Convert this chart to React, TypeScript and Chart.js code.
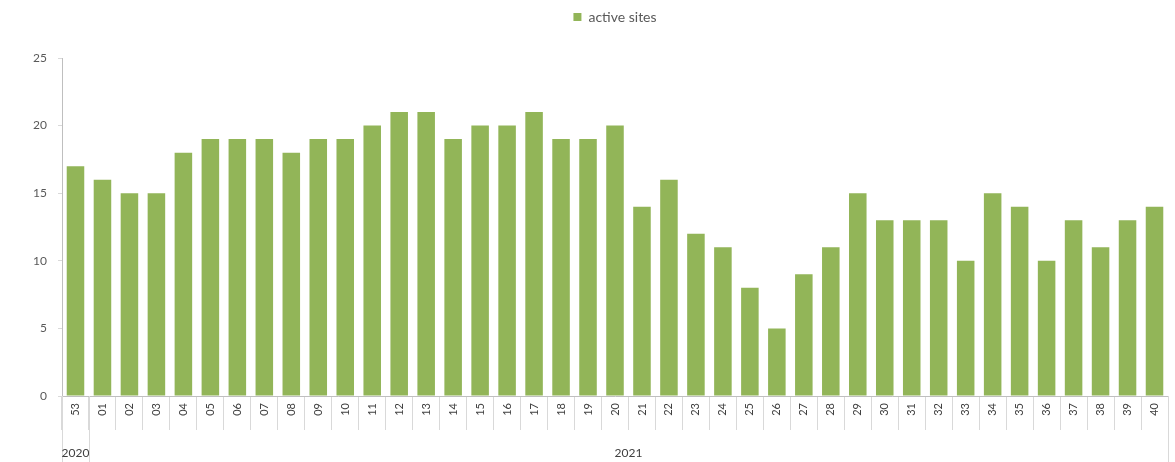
import React, { useEffect, useRef } from 'react';
import { Chart, registerables } from 'chart.js';

Chart.register(...registerables);

const weeks = [
  '53', '01', '02', '03', '04', '05', '06', '07', '08', '09',
  '10', '11', '12', '13', '14', '15', '16', '17', '18', '19',
  '20', '21', '22', '23', '24', '25', '26', '27', '28', '29',
  '30', '31', '32', '33', '34', '35', '36', '37', '38', '39', '40',
];
const activeSites = [
  17, 16, 15, 15, 18, 19, 19, 19, 18, 19,
  19, 20, 21, 21, 19, 20, 20, 21, 19, 19,
  20, 14, 16, 12, 11, 8, 5, 9, 11, 15,
  13, 13, 13, 10, 15, 14, 10, 13, 11, 13, 14,
];
const yearLabels = ['2020', '2021'];
const yearStarts = [0, 1];
const yTicks = [0, 5, 10, 15, 20, 25];

const FONT = 'Lato, "Liberation Sans", sans-serif';
const BAR = '#92b558';
const TEXT = '#595959';
const LINE = '#d9d9d9';

const yearPlugin = {
  id: 'yearGroups',
  afterDraw(chart: any) {
    const xs = chart.scales.x;
    const ctx = chart.ctx;
    const half = (xs.getPixelForValue(1) - xs.getPixelForValue(0)) / 2;
    ctx.save();
    ctx.strokeStyle = LINE;
    ctx.lineWidth = 1;
    ctx.fillStyle = '#404040';
    ctx.font = `12px ${FONT}`;
    ctx.textAlign = 'center';
    ctx.textBaseline = 'middle';
    yearStarts.forEach((start, g) => {
      const end = g + 1 < yearStarts.length ? yearStarts[g + 1] - 1 : weeks.length - 1;
      const left = xs.getPixelForValue(start) - half;
      const right = xs.getPixelForValue(end) + half;
      [left, right].forEach((px) => {
        const x = Math.round(px) + 0.5;
        ctx.beginPath();
        ctx.moveTo(x, xs.top);
        ctx.lineTo(x, chart.height);
        ctx.stroke();
      });
      ctx.fillText(yearLabels[g], (left + right) / 2, xs.top + 57);
    });
    ctx.restore();
  },
};

export default function App() {
  const ref = useRef<HTMLCanvasElement | null>(null);

  useEffect(() => {
    if (!ref.current) return;
    const chart = new Chart(ref.current, {
      type: 'bar',
      data: {
        labels: weeks,
        datasets: [
          {
            label: 'active sites',
            data: activeSites,
            backgroundColor: BAR,
            borderWidth: 0,
            categoryPercentage: 1,
            barPercentage: 0.65,
            xAxisID: 'x',
            yAxisID: 'y',
          },
        ],
      },
      options: {
        animation: false,
        responsive: false,
        layout: { padding: { top: 0, right: 7, left: 0, bottom: 0 } },
        plugins: {
          legend: {
            display: true,
            position: 'top',
            fullSize: false,
            labels: {
              boxWidth: 8,
              boxHeight: 8,
              padding: 10,
              color: TEXT,
              font: { family: FONT, size: 14 },
            },
          },
          tooltip: { enabled: false },
        },
        scales: {
          x: {
            type: 'category',
            position: 'bottom',
            grid: {
              display: true,
              offset: true,
              drawOnChartArea: false,
              drawTicks: true,
              tickLength: 34,
              color: LINE,
            },
            border: { display: true, color: '#bfbfbf' },
            ticks: {
              autoSkip: false,
              minRotation: 90,
              maxRotation: 90,
              padding: -27,
              color: '#404040',
              font: { family: FONT, size: 11 },
            },
            afterFit: (s: any) => {
              s.height = 66;
            },
          },
          xTop: {
            type: 'category',
            position: 'top',
            display: true,
            grid: { display: false },
            border: { display: false },
            ticks: { display: false },
            afterFit: (s: any) => {
              s.height = 24;
            },
          },
          y: {
            min: 0,
            max: 25,
            afterBuildTicks: (s: any) => {
              s.ticks = yTicks.map((v) => ({ value: v }));
            },
            grid: {
              display: true,
              drawOnChartArea: false,
              drawTicks: true,
              tickLength: 4,
              color: LINE,
            },
            border: { display: true, color: '#bfbfbf' },
            ticks: {
              padding: 11,
              color: TEXT,
              font: { family: FONT, size: 12 },
            },
            afterFit: (s: any) => {
              s.width = 62;
            },
          },
        },
      },
      plugins: [yearPlugin],
    } as any);
    return () => chart.destroy();
  }, []);

  return (
    <div style={{ position: 'absolute', left: 0, top: 0, width: 1175, height: 462, background: '#fff' }}>
      <canvas ref={ref} width={1175} height={462} />
    </div>
  );
}
